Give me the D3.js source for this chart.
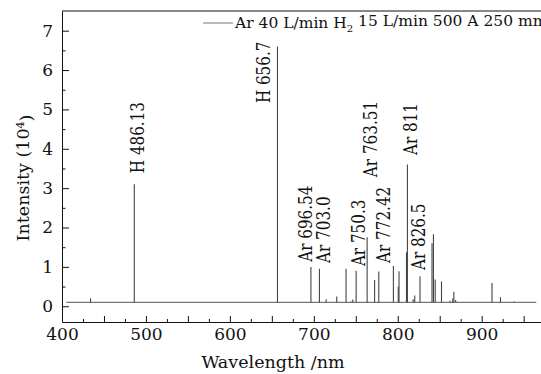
<!DOCTYPE html>
<html>
<head>
<meta charset="utf-8">
<script src="https://cdn.jsdelivr.net/npm/d3@7"></script>
<style>
  body { margin: 0; background: #fff; }
  text { font-family: "DejaVu Serif", serif; fill: #111; }
  .axis path, .axis line { stroke: #111; }
</style>
</head>
<body>
<svg id="chart" width="541" height="374"></svg>
<script>
// emission lines: wavelength (nm) and intensity (10^4)
var lineWl  = [434.0, 486.13, 656.7, 696.54, 706.7, 714.7, 727.3, 738.4, 744.0, 746.4, 750.4, 763.51,
               772.42, 777.4, 794.8, 800.6, 801.5, 810.4, 811.5, 818.3, 820.2, 826.5, 840.8, 842.5,
               844.6, 852.1, 862.2, 865.5, 866.8, 869.0, 912.3, 922.4, 938.8];
var lineInt = [0.2, 3.1, 6.6, 1.0, 0.95, 0.18, 0.25, 0.95, 0.12, 0.17, 0.9, 1.75,
               0.67, 0.88, 1.02, 0.5, 0.89, 1.37, 3.6, 0.18, 0.27, 0.76, 1.6, 1.83,
               0.68, 0.63, 0.14, 0.2, 0.37, 0.16, 0.59, 0.23, 0.12];
var baseStart = 405, baseEnd = 965, baseLevel = 0.1;

// peak annotations: label, wavelength where the label sits, intensity where it starts
var labelText = ["H 486.13", "H 656.7", "Ar 696.54", "Ar 703.0", "Ar 750.3", "Ar 763.51", "Ar 772.42", "Ar 811", "Ar 826.5"];
var labelWl   = [497.4, 647.8, 697.3, 719.3, 761.0, 775.0, 790.8, 822.5, 832.4];
var labelInt  = [3.38, 5.16, 1.13, 1.1, 1.02, 3.28, 1.1, 3.84, 0.92];

var xTicks = [400, 500, 600, 700, 800, 900];
var yTicks = [0, 1, 2, 3, 4, 5, 6, 7];

var margin = {top: 11, left: 62, bottom: 52};
var height = 374;

var svg = d3.select("#chart");

var x = d3.scaleLinear().domain([400, 1000]).range([margin.left, margin.left + 600 * 0.8394]);
var y = d3.scaleLinear().domain([-0.4, 7.5]).range([height - margin.bottom, margin.top]);

// minor ticks
var xMinor = d3.range(425, 1000, 50);
var xMid = d3.range(450, 1000, 100);
var yMinor = d3.range(0.5, 7.5, 1);

var xAxis = svg.append("g").attr("class", "axis")
  .attr("transform", "translate(0," + y.range()[0] + ")")
  .call(d3.axisBottom(x).tickValues(xTicks).tickFormat(d3.format("d")).tickSizeInner(-6).tickSizeOuter(0).tickPadding(5));
xAxis.selectAll("text").style("font-size", "17px").attr("dy", "0.78em");
xAxis.selectAll(".tick line").attr("y2", -6);

svg.append("g").attr("class", "axis")
  .attr("transform", "translate(0," + y.range()[0] + ")")
  .call(d3.axisBottom(x).tickValues(xMid).tickFormat("").tickSizeInner(-6).tickSizeOuter(0))
  .select(".domain").remove();
svg.append("g").attr("class", "axis")
  .attr("transform", "translate(0," + y.range()[0] + ")")
  .call(d3.axisBottom(x).tickValues(xMinor).tickFormat("").tickSizeInner(-3).tickSizeOuter(0))
  .select(".domain").remove();

var yAxis = svg.append("g").attr("class", "axis")
  .attr("transform", "translate(" + margin.left + ",0)")
  .call(d3.axisLeft(y).tickValues(yTicks).tickFormat(d3.format("d")).tickSizeInner(-7).tickSizeOuter(0).tickPadding(9));
yAxis.selectAll("text").style("font-size", "17px");
yAxis.selectAll(".tick text").attr("x", -9);

svg.append("g").attr("class", "axis")
  .attr("transform", "translate(" + margin.left + ",0)")
  .call(d3.axisLeft(y).tickValues(yMinor).tickFormat("").tickSizeInner(-3.5).tickSizeOuter(0))
  .select(".domain").remove();

// top frame line
svg.append("line")
  .attr("x1", x.range()[0]).attr("x2", x.range()[1])
  .attr("y1", y.range()[1]).attr("y2", y.range()[1])
  .attr("stroke", "#111");

// spectrum
svg.append("line")
  .attr("x1", x(baseStart)).attr("x2", x(baseEnd))
  .attr("y1", y(baseLevel)).attr("y2", y(baseLevel))
  .attr("stroke", "#555").attr("stroke-width", 1);

svg.append("g").selectAll("line")
  .data(lineWl)
  .enter().append("line")
  .attr("x1", function(d) { return x(d); })
  .attr("x2", function(d) { return x(d); })
  .attr("y1", y(baseLevel))
  .attr("y2", function(d, i) { return y(lineInt[i]); })
  .attr("stroke", "#444").attr("stroke-width", 1.1);

// peak labels
svg.append("g").selectAll("text")
  .data(labelText)
  .enter().append("text")
  .attr("transform", function(d, i) {
    return "translate(" + x(labelWl[i]) + "," + y(labelInt[i]) + ") rotate(-90) scale(0.8,1)";
  })
  .style("font-size", "19px")
  .text(function(d) { return d; });

// axis titles
svg.append("text")
  .attr("x", 273).attr("y", 368)
  .attr("text-anchor", "middle")
  .style("font-size", "17.5px")
  .text("Wavelength /nm");

var yt = svg.append("text")
  .attr("transform", "translate(29,178) rotate(-90)")
  .attr("text-anchor", "middle")
  .style("font-size", "17.5px");
yt.append("tspan").text("Intensity (10");
yt.append("tspan").attr("dy", "-0.5em").style("font-size", "11px").text("4");
yt.append("tspan").attr("dy", "0.5em").text(")");

// legend
svg.append("line")
  .attr("x1", 203).attr("x2", 233).attr("y1", 23).attr("y2", 23)
  .attr("stroke", "#777").attr("stroke-width", 1);
var lg = svg.append("text").attr("x", 235).attr("y", 28).style("font-size", "15.5px");
lg.append("tspan").text("Ar 40 L/min H");
lg.append("tspan").attr("dy", "0.35em").style("font-size", "10px").text("2");
lg.append("tspan").attr("dy", "-0.35em").text(" 15 L/min 500 A 250 mm");
</script>
</body>
</html>
